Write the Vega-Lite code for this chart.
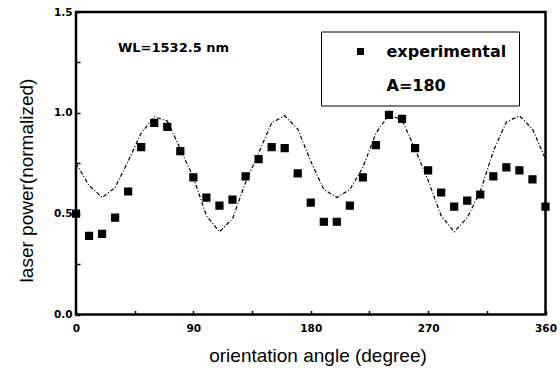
{
  "$schema": "https://vega.github.io/schema/vega-lite/v6.json",
  "width": 469.5,
  "height": 302.5,
  "autosize": {"type": "none"},
  "padding": {"left": 76, "top": 12, "right": 14.5, "bottom": 55.5},
  "background": "white",
  "config": {
    "view": {"stroke": "black", "strokeWidth": 2.5},
    "axis": {"domain": false, "grid": false, "tickColor": "black", "tickWidth": 1.5, "tickSize": -4,
      "labelFont": "DejaVu Sans", "labelFontWeight": "bold", "labelFontSize": 10.5, "labelColor": "black",
      "labelOverlap": false, "labelBound": false, "labelFlush": false,
      "titleFont": "Liberation Sans", "titleFontSize": 19, "titleFontWeight": "normal", "titleColor": "black"}
  },
  "data": {"values": [
    {"angle": 0, "power": 0.50, "series": "experimental"},
    {"angle": 10, "power": 0.39, "series": "experimental"},
    {"angle": 20, "power": 0.40, "series": "experimental"},
    {"angle": 30, "power": 0.48, "series": "experimental"},
    {"angle": 40, "power": 0.61, "series": "experimental"},
    {"angle": 50, "power": 0.83, "series": "experimental"},
    {"angle": 60, "power": 0.95, "series": "experimental"},
    {"angle": 70, "power": 0.93, "series": "experimental"},
    {"angle": 80, "power": 0.81, "series": "experimental"},
    {"angle": 90, "power": 0.68, "series": "experimental"},
    {"angle": 100, "power": 0.58, "series": "experimental"},
    {"angle": 110, "power": 0.54, "series": "experimental"},
    {"angle": 120, "power": 0.57, "series": "experimental"},
    {"angle": 130, "power": 0.685, "series": "experimental"},
    {"angle": 140, "power": 0.77, "series": "experimental"},
    {"angle": 150, "power": 0.83, "series": "experimental"},
    {"angle": 160, "power": 0.825, "series": "experimental"},
    {"angle": 170, "power": 0.70, "series": "experimental"},
    {"angle": 180, "power": 0.555, "series": "experimental"},
    {"angle": 190, "power": 0.46, "series": "experimental"},
    {"angle": 200, "power": 0.46, "series": "experimental"},
    {"angle": 210, "power": 0.54, "series": "experimental"},
    {"angle": 220, "power": 0.68, "series": "experimental"},
    {"angle": 230, "power": 0.84, "series": "experimental"},
    {"angle": 240, "power": 0.99, "series": "experimental"},
    {"angle": 250, "power": 0.97, "series": "experimental"},
    {"angle": 260, "power": 0.825, "series": "experimental"},
    {"angle": 270, "power": 0.715, "series": "experimental"},
    {"angle": 280, "power": 0.605, "series": "experimental"},
    {"angle": 290, "power": 0.535, "series": "experimental"},
    {"angle": 300, "power": 0.565, "series": "experimental"},
    {"angle": 310, "power": 0.595, "series": "experimental"},
    {"angle": 320, "power": 0.685, "series": "experimental"},
    {"angle": 330, "power": 0.73, "series": "experimental"},
    {"angle": 340, "power": 0.715, "series": "experimental"},
    {"angle": 350, "power": 0.67, "series": "experimental"},
    {"angle": 360, "power": 0.535, "series": "experimental"},
    {"angle": 0, "power": 0.75, "series": "A=180"},
    {"angle": 10, "power": 0.64, "series": "A=180"},
    {"angle": 20, "power": 0.58, "series": "A=180"},
    {"angle": 30, "power": 0.63, "series": "A=180"},
    {"angle": 40, "power": 0.76, "series": "A=180"},
    {"angle": 50, "power": 0.90, "series": "A=180"},
    {"angle": 60, "power": 0.98, "series": "A=180"},
    {"angle": 70, "power": 0.96, "series": "A=180"},
    {"angle": 80, "power": 0.82, "series": "A=180"},
    {"angle": 90, "power": 0.68, "series": "A=180"},
    {"angle": 100, "power": 0.49, "series": "A=180"},
    {"angle": 110, "power": 0.41, "series": "A=180"},
    {"angle": 120, "power": 0.475, "series": "A=180"},
    {"angle": 130, "power": 0.655, "series": "A=180"},
    {"angle": 140, "power": 0.80, "series": "A=180"},
    {"angle": 150, "power": 0.95, "series": "A=180"},
    {"angle": 160, "power": 0.985, "series": "A=180"},
    {"angle": 170, "power": 0.92, "series": "A=180"},
    {"angle": 180, "power": 0.76, "series": "A=180"},
    {"angle": 190, "power": 0.62, "series": "A=180"},
    {"angle": 200, "power": 0.58, "series": "A=180"},
    {"angle": 210, "power": 0.62, "series": "A=180"},
    {"angle": 220, "power": 0.73, "series": "A=180"},
    {"angle": 230, "power": 0.90, "series": "A=180"},
    {"angle": 240, "power": 0.99, "series": "A=180"},
    {"angle": 250, "power": 0.965, "series": "A=180"},
    {"angle": 260, "power": 0.82, "series": "A=180"},
    {"angle": 270, "power": 0.665, "series": "A=180"},
    {"angle": 280, "power": 0.49, "series": "A=180"},
    {"angle": 290, "power": 0.41, "series": "A=180"},
    {"angle": 300, "power": 0.48, "series": "A=180"},
    {"angle": 310, "power": 0.61, "series": "A=180"},
    {"angle": 320, "power": 0.81, "series": "A=180"},
    {"angle": 330, "power": 0.955, "series": "A=180"},
    {"angle": 340, "power": 0.985, "series": "A=180"},
    {"angle": 350, "power": 0.92, "series": "A=180"},
    {"angle": 360, "power": 0.77, "series": "A=180"}
  ]},
  "layer": [
    {
      "transform": [{"filter": "datum.series === 'A=180'"}],
      "mark": {"type": "line", "color": "black", "strokeWidth": 1.2, "strokeDash": [4, 2, 1, 2]},
      "encoding": {
        "x": {"field": "angle", "type": "quantitative", "scale": {"domain": [0, 360], "nice": false, "zero": false},
          "axis": {"values": [0, 45, 90, 135, 180, 225, 270, 315, 360],
            "labelExpr": "datum.value % 90 == 0 ? datum.label : ''",
            "labelPadding": 13, "title": "orientation angle (degree)",
            "titleX": 241.5, "titleY": 46.5, "titleBaseline": "alphabetic", "titleAlign": "center"}},
        "y": {"field": "power", "type": "quantitative", "scale": {"domain": [0, 1.5], "nice": false},
          "axis": {"values": [0, 0.25, 0.5, 0.75, 1, 1.25, 1.5],
            "labelExpr": "datum.value % 0.5 == 0 ? format(datum.value, '.1f') : ''",
            "labelPadding": 8, "title": "laser power(normalized)",
            "titleX": -50, "titleY": 168, "titleBaseline": "middle", "titleAlign": "center", "titleAngle": -90}}
      }
    },
    {
      "transform": [{"filter": "datum.series === 'experimental'"}],
      "mark": {"type": "point", "filled": true, "fill": "black", "stroke": "black", "strokeWidth": 1.2, "opacity": 1, "size": 49},
      "encoding": {
        "x": {"field": "angle", "type": "quantitative"},
        "y": {"field": "power", "type": "quantitative"},
        "shape": {"field": "series", "type": "nominal",
          "scale": {"domain": ["experimental", "A=180"], "range": ["square", "M-6.5,0H6.5"]},
          "legend": {"orient": "none", "legendX": 245, "legendY": 19.5, "title": null,
            "padding": 12, "rowPadding": 18, "strokeColor": "black", "fillColor": "white",
            "labelFont": "DejaVu Sans", "labelFontWeight": "bold", "labelFontSize": 16, "labelColor": "black",
            "labelOffset": 18, "symbolOffset": 19.5, "symbolSize": 49,
            "symbolStrokeColor": "black", "symbolFillColor": "black", "symbolStrokeWidth": 1.2,
            "symbolDash": [4, 2, 1, 2], "symbolOpacity": 1,
            "encode": {"legend": {"strokeWidth": {"value": 1.5}}}}}
      }
    },
    {
      "data": {"values": [{"note": "WL=1532.5 nm"}]},
      "mark": {"type": "text", "align": "left", "baseline": "middle", "font": "DejaVu Sans", "fontWeight": "bold", "fontSize": 13, "color": "black"},
      "encoding": {
        "x": {"datum": 32.2, "type": "quantitative"},
        "y": {"datum": 1.323, "type": "quantitative"},
        "text": {"field": "note"}
      }
    }
  ]
}
